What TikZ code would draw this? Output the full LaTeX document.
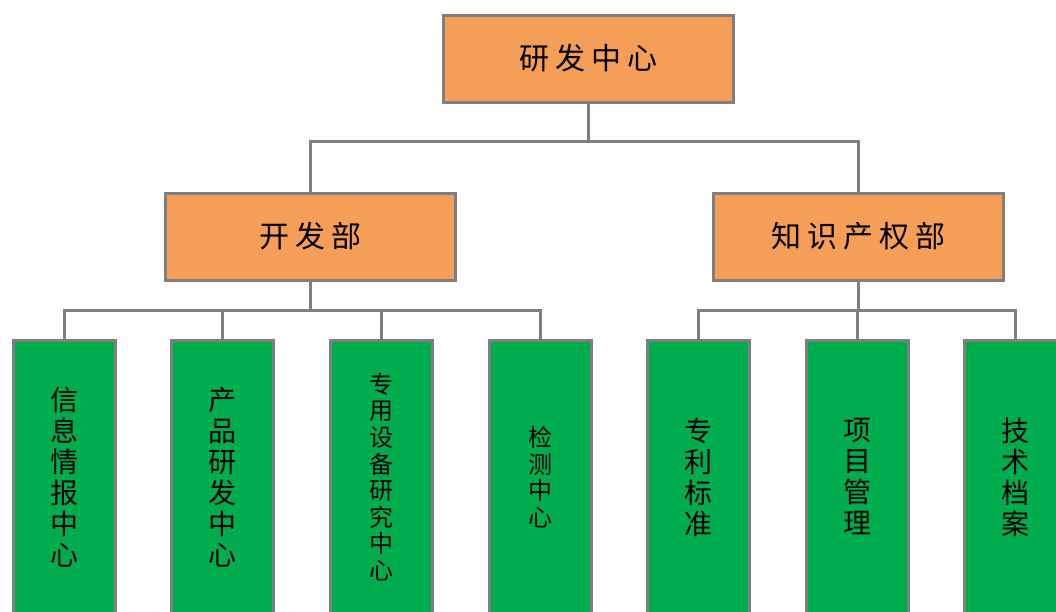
\documentclass[tikz,border=0pt]{standalone}
\usepackage{fontspec}
\setmainfont{Noto Sans CJK SC}
\definecolor{orangefill}{HTML}{F59E58}
\definecolor{greenfill}{HTML}{00AD4E}
\definecolor{linegray}{HTML}{7F7F7F}
\begin{document}
\begin{tikzpicture}[x=1pt,y=-1pt,
  box/.style={draw=linegray, line width=3pt, inner sep=0pt, outer sep=0pt},
  dept/.style={box, fill=orangefill, minimum width=290pt, minimum height=87pt, font=\fontsize{30}{36}\selectfont},
  unit/.style={box, fill=greenfill, minimum width=102pt, minimum height=274pt, align=center, font=\fontsize{28}{31}\selectfont},
  smallunit/.style={unit, font=\fontsize{24}{26.6}\selectfont},
  conn/.style={draw=linegray, line width=3pt}]
\useasboundingbox (0,0) rectangle (1056,611);
\clip (0,0) rectangle (1056,611);
\fill[white] (0,0) rectangle (1056,611);

\node[dept] (root) at (588,58.5) {研\kern6pt 发\kern6pt 中\kern6pt 心};
\node[dept] (kf) at (310.5,236.5) {开\kern6pt 发\kern6pt 部};
\node[dept] (zs) at (858.5,236.5) {知\kern6pt 识\kern6pt 产\kern6pt 权\kern6pt 部};

\node[unit] (u1) at (64,477) {信\\息\\情\\报\\中\\心};
\node[unit] (u2) at (222.5,477) {产\\品\\研\\发\\中\\心};
\node[smallunit] (u3) at (381,477) {专\\用\\设\\备\\研\\究\\中\\心};
\node[smallunit] (u4) at (540,477) {检\\测\\中\\心};
\node[unit] (u5) at (698,477) {专\\利\\标\\准};
\node[unit] (u6) at (857,477) {项\\目\\管\\理};
\node[unit] (u7) at (1015.5,477) {技\\术\\档\\案};

\coordinate (bus1) at (588,141);
\coordinate (bus2) at (310,310);
\coordinate (bus3) at (856,310);

\draw[conn] (root.south) -- (bus1);
\draw[conn] (kf.north) -- (kf.north |- bus1) -- (zs.north |- bus1) -- (zs.north);

\draw[conn] (kf.south) -- (kf.south |- bus2);
\draw[conn] (u1.north) -- (u1.north |- bus2) -- (u4.north |- bus2) -- (u4.north);
\draw[conn] (u2.north) -- (u2.north |- bus2);
\draw[conn] (u3.north) -- (u3.north |- bus2);

\draw[conn] (zs.south) -- (zs.south |- bus3);
\draw[conn] (u5.north) -- (u5.north |- bus3) -- (u7.north |- bus3) -- (u7.north);
\draw[conn] (u6.north) -- (u6.north |- bus3);
\end{tikzpicture}
\end{document}
